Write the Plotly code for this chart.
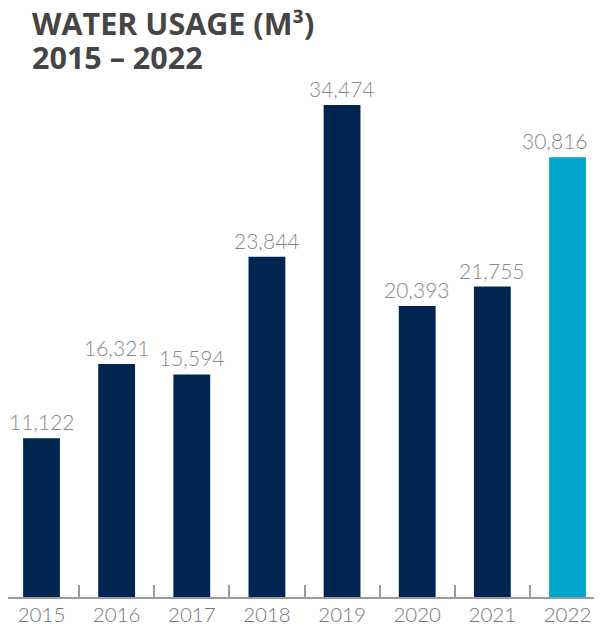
import plotly.graph_objects as go

years = ["2015", "2016", "2017", "2018", "2019", "2020", "2021", "2022"]
usage = [11122, 16321, 15594, 23844, 34474, 20393, 21755, 30816]
navy = "#002550"
cyan = "#00A6CB"
colors = [navy] * 7 + [cyan]
labels = [f"{v:,}" for v in usage]
title_lines = ["WATER USAGE (M³)", "2015 – 2022"]

W, H = 586, 614
T, B = 70, 25
plot_h = H - T - B
bar_w = 0.49

fig = go.Figure()
fig.add_trace(go.Bar(
    x=list(range(len(years))), y=usage, marker=dict(color=colors, line=dict(width=0)),
    width=bar_w, hoverinfo="y",
))
# boundary ticks between categories (drawn on overlay axis)
fig.add_trace(go.Scatter(x=[0.5], y=[0], xaxis="x2", mode="markers",
                         marker=dict(opacity=0), showlegend=False, hoverinfo="skip"))

# value labels
for i, (v, lab) in enumerate(zip(usage, labels)):
    last = i == len(usage) - 1
    fig.add_annotation(
        x=i + (bar_w / 2 + 0.05 if last else 0), y=v, xref="x", yref="y",
        text=lab, showarrow=False, xanchor="right" if last else "center",
        yanchor="bottom", yshift=2,
        font=dict(family="Lato", size=21, color="#888888", weight=300),
    )

# title (two lines placed separately)
for line, yy in zip(title_lines, [14.5, 49.5]):
    fig.add_annotation(
        x=22 / W, y=1 + (T - yy) / plot_h, xref="paper", yref="paper",
        text=f"<b>{line}</b>", showarrow=False, xanchor="left", yanchor="middle",
        font=dict(family="Open Sans", size=30.5, color="#454545"),
    )

xr = [-0.446, -0.446 + W / 75.14]
fig.update_layout(
    width=W, height=H,
    margin=dict(l=0, r=0, t=T, b=B, autoexpand=False),
    paper_bgcolor="white", plot_bgcolor="white",
    showlegend=False,
    xaxis=dict(range=xr,
               tickmode="array", tickvals=list(range(len(years))), ticktext=years,
               tickfont=dict(family="Lato", size=20.5, color="#777777", weight=300),
               ticklabelstandoff=-2,
               showline=True, linecolor="#9a9a9a", linewidth=2,
               ticks="", showgrid=False, zeroline=False),
    xaxis2=dict(overlaying="x", range=xr,
                tickmode="array", tickvals=[i + 0.5 for i in range(len(years) - 1)],
                showticklabels=False, ticks="inside", ticklen=12, tickwidth=2,
                tickcolor="#9a9a9a", showline=False, showgrid=False, zeroline=False,
                side="bottom", anchor="y"),
    yaxis=dict(range=[0, 34474 * plot_h / 492], visible=False, showgrid=False,
               zeroline=False),
)

fig.write_html("out.html")
